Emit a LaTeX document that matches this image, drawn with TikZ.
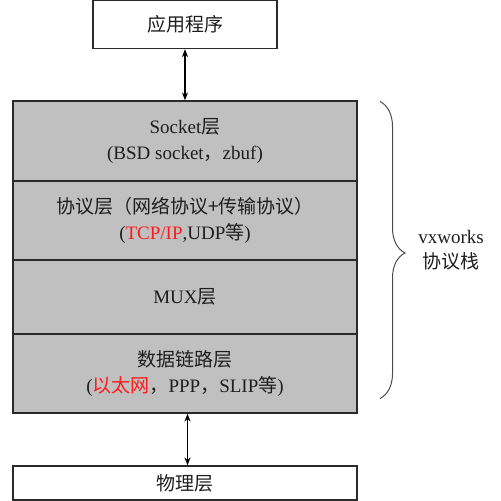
\documentclass[tikz,border=0pt]{standalone}
\usepackage{fontspec}
\setmainfont{Liberation Serif}
\newfontfamily\cjk{Noto Sans CJK SC}
\usetikzlibrary{arrows.meta,decorations.pathreplacing}
\definecolor{layergray}{HTML}{C0C0C0}
\definecolor{txtcol}{HTML}{1E1E1E}
\definecolor{linecol}{HTML}{2A2A2A}
\definecolor{redtxt}{HTML}{FF1A1A}
\newcommand{\zh}[1]{{\cjk #1}}
\begin{document}
\begin{tikzpicture}[x=1pt,y=-1pt,
  font=\fontsize{19}{26}\selectfont, text=txtcol,
  layer/.style={draw=linecol, line width=1.2pt, fill=layergray, minimum width=344pt, inner sep=0pt, align=center},
  plainbox/.style={draw=linecol, line width=1.2pt, fill=white, inner sep=0pt, align=center},
  biarrow/.style={{Stealth[length=8pt,width=6pt]}-{Stealth[length=8pt,width=6pt]}, line width=1.4pt, draw=black}
]
\useasboundingbox (0,0) rectangle (501,501);
% top box
\node[plainbox, minimum width=184pt, minimum height=48pt] (app) at (185,24.5) {\zh{应用程序}};
% stack layers
\node[layer, minimum height=80pt] (sock) at (185,141) {Socket\zh{层}\\(BSD socket\zh{，}zbuf)};
\node[layer, minimum height=79pt] (proto) at (185,220.5) {\zh{协议层（网络协议+传输协议）}\\(\textcolor{redtxt}{TCP/IP},UDP\zh{等})};
\node[layer, minimum height=74pt] (mux) at (185,297) {MUX\zh{层}};
\node[layer, minimum height=79pt] (dl) at (185,373.5) {\zh{数据链路层}\\(\textcolor{redtxt}{\zh{以太网}}\zh{，}PPP\zh{，}SLIP\zh{等})};
% bottom box
\node[plainbox, minimum width=344pt, minimum height=34pt] (phys) at (185,483) {\zh{物理层}};
% arrows
\draw[biarrow] (app.south) -- (sock.north);
\draw[biarrow] ([xshift=2.5pt]dl.south) -- ([xshift=2.5pt]phys.north);
% brace
\coordinate (bt) at (380,101.5);
\coordinate (bb) at (380,398.5);
\draw[draw=black!70, line width=1pt, decorate, decoration={brace, amplitude=25pt, aspect=0.51}] (bt) -- (bb);
\node[align=center, font=\fontsize{19}{25}\selectfont] (lbl) at (451,250.5) {vxworks\\\zh{协议栈}};
\end{tikzpicture}
\end{document}
